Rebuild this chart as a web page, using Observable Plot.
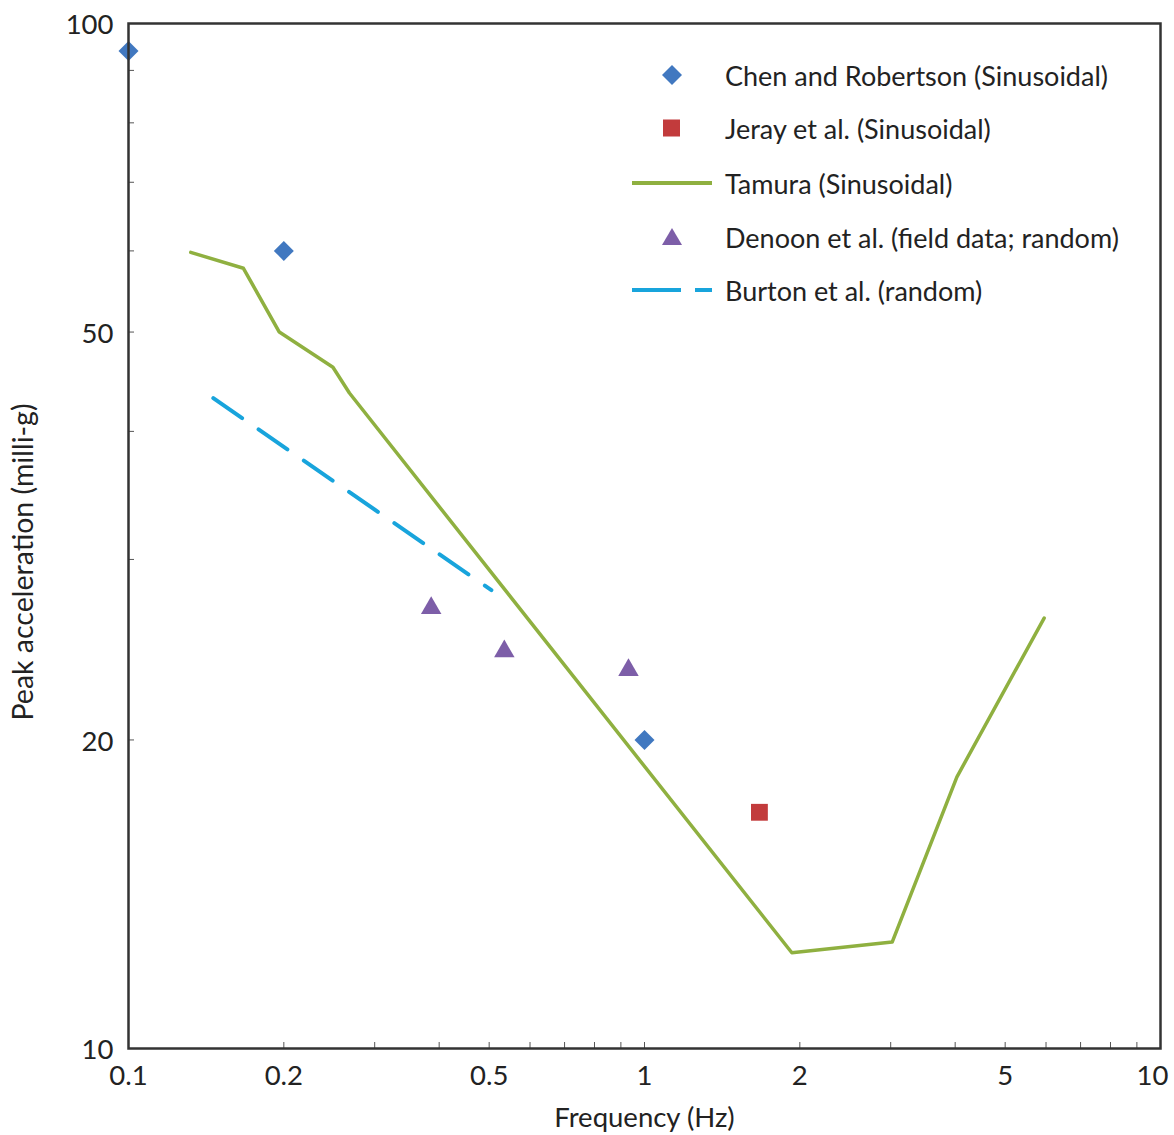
<!DOCTYPE html>
<html>
<head>
<meta charset="utf-8">
<script src="https://cdn.jsdelivr.net/npm/d3@7"></script>
<script src="https://cdn.jsdelivr.net/npm/@observablehq/plot@0.6"></script>
<style>
  html, body { margin: 0; padding: 0; background: #fff; }
  #wrap { position: relative; width: 1174px; height: 1135px; font-family: Lato, "Open Sans", sans-serif; }
  .lg { position: absolute; left: 620px; height: 40px; display: flex; align-items: center; font-size: 27px; color: #222; white-space: nowrap; }
  .lg svg { width: 100px; height: 40px; flex: none; }
  .lg span { margin-left: 5px; }
  #ylab { position: absolute; left: 22px; top: 562px; transform: translate(-50%, -50%) rotate(-90deg); font-size: 28.5px; color: #222; white-space: nowrap; }
</style>
</head>
<body>
<div id="wrap"></div>
<script>
// ---- data ----
const chenFreq = [0.1, 0.2, 1.0];
const chenAcc = [94, 60, 20];

const jerayFreq = [1.67];
const jerayAcc = [17];

const tamuraFreq = [0.132, 0.167, 0.196, 0.249, 0.268, 1.93, 3.02, 4.03, 5.95];
const tamuraAcc = [59.8, 57.7, 50, 46.2, 43.6, 12.4, 12.7, 18.4, 26.3];

const denoonFreq = [0.386, 0.535, 0.931];
const denoonAcc = [26.9, 24.4, 23.4];

const burtonFreq = [0.146, 0.505];
const burtonAcc = [43.1, 28.0];

const xTickLabels = [0.1, 0.2, 0.5, 1, 2, 5];
const xLastLabel = [10];
const xMinorTicks = [0.2, 0.3, 0.4, 0.5, 0.6, 0.7, 0.8, 0.9, 1, 2, 3, 4, 5, 6, 7, 8, 9];
const yTickLabels = [10, 20, 50, 100];
const yMinorTicks = [20, 30, 40, 50, 60, 70, 80, 90];

const xTitle = "Frequency (Hz)";
const yTitle = "Peak acceleration (milli-g)";

const seriesNames = [
  "Chen and Robertson (Sinusoidal)",
  "Jeray et al. (Sinusoidal)",
  "Tamura (Sinusoidal)",
  "Denoon et al. (field data; random)",
  "Burton et al. (random)"
];
const colors = { chen: "#4178c0", jeray: "#c23b3c", tamura: "#8fb040", denoon: "#7d5ea8", burton: "#18a4dc" };

const zip = (xs, ys) => xs.map((x, i) => ({ x, y: ys[i] }));
const chen = zip(chenFreq, chenAcc);
const jeray = zip(jerayFreq, jerayAcc);
const tamura = zip(tamuraFreq, tamuraAcc);
const denoon = zip(denoonFreq, denoonAcc);
const burton = zip(burtonFreq, burtonAcc);

const chart = Plot.plot({
  width: 1174,
  height: 1135,
  marginLeft: 128,
  marginRight: 14,
  marginTop: 23,
  marginBottom: 87,
  style: { fontFamily: "Lato, 'Open Sans', sans-serif", fontSize: "28.5px", color: "#222", background: "white" },
  x: { type: "log", domain: [0.1, 10] },
  y: { type: "log", domain: [10, 100] },
  marks: [
    Plot.axisX(xMinorTicks, { tickSize: -6, tickFormat: () => "", stroke: "#555", label: null }),
    Plot.axisY(yMinorTicks, { tickSize: -6, tickFormat: () => "", stroke: "#555", label: null }),
    Plot.axisX(xTickLabels, {
      tickSize: 0, tickPadding: 17, tickFormat: d => String(d), fontSize: 27.5,
      label: xTitle, labelAnchor: "center", labelArrow: "none", labelOffset: 78
    }),
    Plot.axisX(xLastLabel, {
      tickSize: 0, tickPadding: 17, tickFormat: d => String(d), fontSize: 27.5, dx: -8, label: null
    }),
    Plot.axisY(yTickLabels, {
      tickSize: 0, tickPadding: 15, tickFormat: d => String(d), fontSize: 27.5, dy: 2, label: null
    }),
    Plot.line(tamura, { x: "x", y: "y", stroke: colors.tamura, strokeWidth: 3.5 }),
    Plot.line(burton, { x: "x", y: "y", stroke: colors.burton, strokeWidth: 4, strokeDasharray: "35,20" }),
    Plot.dot(chen, { x: "x", y: "y", symbol: "diamond2", r: 9, fill: colors.chen }),
    Plot.dot(jeray, { x: "x", y: "y", symbol: "square", r: 9.5, fill: colors.jeray }),
    Plot.dot(denoon, { x: "x", y: "y", symbol: "triangle", r: 7.6, fill: colors.denoon }),
    Plot.frame({ stroke: "#333", strokeWidth: 2.5 })
  ]
});

const wrap = document.getElementById("wrap");
wrap.appendChild(chart);

// y-axis title
const ylab = document.createElement("div");
ylab.id = "ylab";
ylab.textContent = yTitle;
wrap.appendChild(ylab);

// ---- legend (overlay inside the plot area) ----
const symbols = [
  `<path d="M52,-10 L62,0 L52,10 L42,0 Z" fill="${colors.chen}" transform="translate(0,20)"/>`,
  `<rect x="43" y="11.5" width="17" height="17" fill="${colors.jeray}"/>`,
  `<line x1="12" y1="20" x2="92" y2="20" stroke="${colors.tamura}" stroke-width="4"/>`,
  `<path d="M52,11 L62,28 L42,28 Z" fill="${colors.denoon}"/>`,
  `<line x1="12" y1="20" x2="61" y2="20" stroke="${colors.burton}" stroke-width="4"/><line x1="75" y1="20" x2="92" y2="20" stroke="${colors.burton}" stroke-width="4"/>`
];
const rowCenters = [75, 128, 183, 237, 290];
seriesNames.forEach((name, i) => {
  const row = document.createElement("div");
  row.className = "lg";
  row.style.top = (rowCenters[i] - 20) + "px";
  row.innerHTML = `<svg viewBox="0 0 100 40">${symbols[i]}</svg><span>${name}</span>`;
  wrap.appendChild(row);
});
</script>
</body>
</html>
